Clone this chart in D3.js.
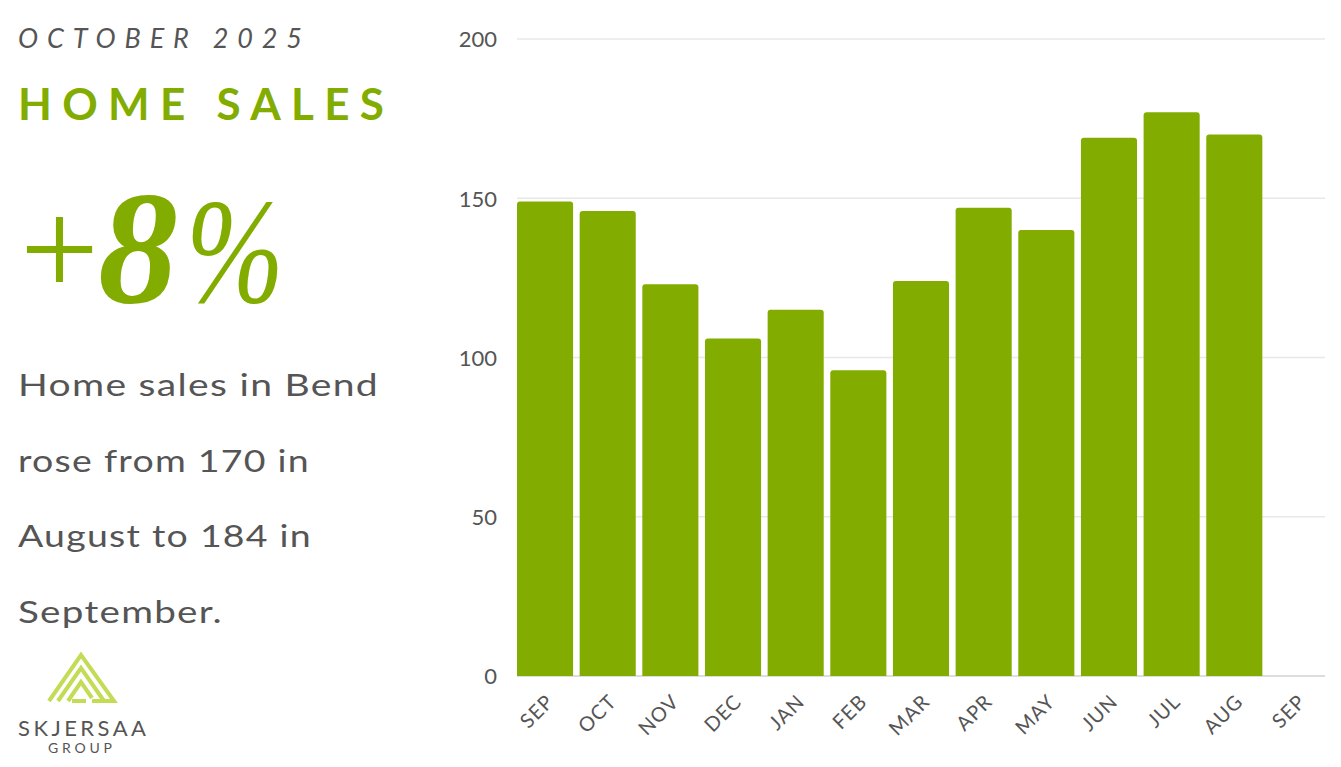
<!DOCTYPE html>
<html><head><meta charset="utf-8">
<script src="https://cdn.jsdelivr.net/npm/d3@7"></script>
<style>
html,body{margin:0;padding:0;background:#fff;}
svg{display:block;}
.big{font-family:"Liberation Serif","DejaVu Serif","Times New Roman",serif;}
</style></head>
<body>
<svg id="c" width="1341" height="767"></svg>
<script>
const months = ["SEP","OCT","NOV","DEC","JAN","FEB","MAR","APR","MAY","JUN","JUL","AUG","SEP "];
const sales = [149,146,123,106,115,96,124,147,140,169,177,170,null];
const yTicks = [0,50,100,150,200];
const bodyLines = ["Home sales in Bend","rose from 170 in","August to 184 in","September."];

const green = "#82ad00", grey = "#555555";
const svg = d3.select("#c");

// Left panel text
svg.append("text").attr("x",18).attr("y",48).attr("font-family","Lato, sans-serif")
  .attr("font-style","italic").attr("font-size",27).attr("fill",grey)
  .attr("textLength",284).attr("lengthAdjust","spacing").text("OCTOBER 2025");
svg.append("text").attr("x",18).attr("y",120).attr("font-family","Lato, sans-serif")
  .attr("font-weight",700).attr("font-size",44).attr("fill",green)
  .attr("textLength",366).attr("lengthAdjust","spacing").text("HOME SALES");
svg.append("text").attr("class","big").attr("x",20).attr("y",296).attr("font-size",140).attr("fill",green).text("+");
svg.append("text").attr("class","big").attr("x",98).attr("y",302).attr("font-size",160)
  .attr("font-style","italic").attr("font-weight",700).attr("fill",green)
  .attr("textLength",80).attr("lengthAdjust","spacingAndGlyphs").text("8");
svg.append("text").attr("class","big").attr("x",186).attr("y",302).attr("font-size",150)
  .attr("font-style","italic").attr("fill",green)
  .attr("textLength",98).attr("lengthAdjust","spacingAndGlyphs").text("%");
const bodyW = [361,292,294,205];
bodyLines.forEach((t,i)=>{
  svg.append("text").attr("x",18).attr("y",396+i*75.5).attr("font-family","Lato, sans-serif")
    .attr("font-size",30).attr("fill",grey).attr("letter-spacing",1)
    .attr("textLength",bodyW[i]).attr("lengthAdjust","spacingAndGlyphs").text(t);
});

// Logo
const logo = svg.append("g").attr("fill","none").attr("stroke","#c3dc55").attr("stroke-width",4).attr("stroke-linejoin","miter");
logo.append("path").attr("d","M49,701 L81,655 L114,701 L92,701");
logo.append("path").attr("d","M58,701 L81,668 L104,701");
logo.append("path").attr("d","M68,701 L81,682 L92,698 M72,701 L86,701");
svg.append("text").attr("x",18).attr("y",736).attr("font-family","Lato, sans-serif")
  .attr("font-size",22).attr("fill",grey).attr("textLength",128).attr("lengthAdjust","spacing").text("SKJERSAA");
svg.append("text").attr("x",48).attr("y",753).attr("font-family","Lato, sans-serif")
  .attr("font-size",14).attr("fill",grey).attr("textLength",64).attr("lengthAdjust","spacing").text("GROUP");

// Chart
const x = d3.scaleBand().domain(months).range([517,1325]).paddingInner(0.105).paddingOuter(0);
const y = d3.scaleLinear().domain([0,200]).range([676,39]);

const grid = svg.append("g");
grid.selectAll("line").data(yTicks).join("line")
  .attr("x1",517).attr("x2",1325).attr("y1",d=>y(d)).attr("y2",d=>y(d))
  .attr("stroke",d=>d===0?"#dddddd":"#e8e8e8").attr("stroke-width",d=>d===0?2:1.3);

const yAxis = d3.axisLeft(y).tickValues(yTicks).tickSize(0).tickPadding(0);
const ya = svg.append("g").attr("transform","translate(497,0)").call(yAxis);
ya.select(".domain").remove();
ya.selectAll("text").attr("font-family","Lato, sans-serif").attr("font-size",22).attr("fill",grey).attr("dy","0.36em");

const r = 3;
svg.append("g").selectAll("path").data(months.map((m,i)=>({m,v:sales[i]})).filter(d=>d.v!=null)).join("path")
  .attr("fill",green)
  .attr("d",d=>{
    const x0=x(d.m), w=x.bandwidth(), y0=y(d.v), yb=y(0);
    return `M${x0},${yb}V${y0+r}Q${x0},${y0} ${x0+r},${y0}H${x0+w-r}Q${x0+w},${y0} ${x0+w},${y0+r}V${yb}Z`;
  });

const xAxis = d3.axisBottom(x).tickSize(0).tickPadding(0).tickFormat(d=>d.trim());
const xa = svg.append("g").attr("transform","translate(0,676)").call(xAxis);
xa.select(".domain").remove();
xa.selectAll("text").attr("font-family","Lato, sans-serif").attr("font-size",20).attr("fill",grey)
  .attr("letter-spacing",1).attr("text-anchor","end").attr("dy",null).attr("y",0)
  .attr("transform","translate(10,27) rotate(-45)");
</script>
</body></html>
